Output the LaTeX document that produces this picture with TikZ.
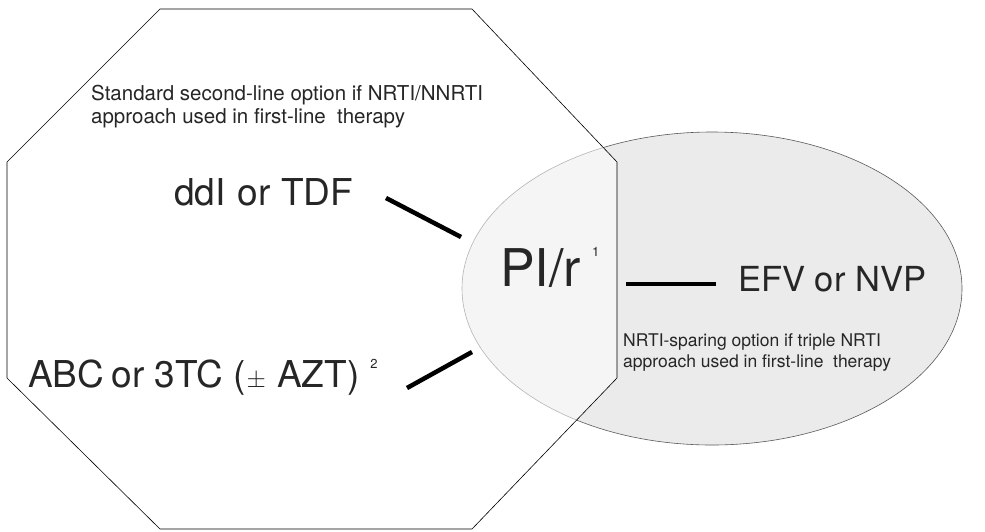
\documentclass[tikz,border=0pt]{standalone}
\usepackage{fontspec}
\setmainfont{TeX Gyre Heros}
\begin{document}
\begin{tikzpicture}[x=1pt,y=-1pt,
        txt/.style={inner sep=0pt,anchor=base west,text=black!85},
        bar/.style={line width=4.5pt}]
        \useasboundingbox (0,0) rectangle (985,531);

        \draw[fill=black!8,draw=black!65,line width=0.6pt] (712,288.5) ellipse [x radius=250,y radius=156.5];
        \draw[line width=0.6pt,fill=white,fill opacity=0.55] (160,9) -- (472,9) -- (617,162) -- (617,378) -- (472,529) -- (160,529) -- (7,378) -- (7,162) -- cycle;

        \node[txt,font=\fontsize{20.5}{23}\selectfont,align=left] (std) at (91,123) {Standard second-line option if NRTI/NNRTI\\approach used in first-line~ therapy};
        \node[txt,font=\fontsize{37}{37}\selectfont] (ddi) at (174,205) {ddI\hspace{2pt} or TDF};
        \node[txt,font=\fontsize{52}{52}\selectfont] (pir) at (500,286) {PI/r\hspace{11pt}\raisebox{30pt}{\fontsize{13}{13}\selectfont 1}};
        \node[txt,font=\fontsize{34.5}{34.5}\selectfont] (efv) at (738,291) {EFV or NVP};
        \node[txt,font=\fontsize{17.5}{21}\selectfont,align=left] (spare) at (623,367) {NRTI-sparing option if triple NRTI\\approach used in first-line~ therapy};
        \node[txt,font=\fontsize{37}{37}\selectfont] (abc) at (28,387) {ABC\hspace{-3pt} or 3TC (\hspace{1pt}{\fontsize{28}{28}\selectfont$\pm$}\hspace{1pt} AZT)\hspace{11pt}\raisebox{19pt}{\fontsize{13}{13}\selectfont 2}};

        \coordinate (ddiEnd) at (386,198);
        \coordinate (pirTop) at (461,237);
        \coordinate (abcEnd) at (407,388);
        \coordinate (pirLow) at (472,352);
        \coordinate (pirEnd) at (626,284);
        \coordinate (efvEnd) at (716,284);
        \draw[bar] (ddiEnd) -- (pirTop);
        \draw[bar] (abcEnd) -- (pirLow);
        \draw[bar] (pirEnd) -- (efvEnd);
    \end{tikzpicture}
\end{document}
